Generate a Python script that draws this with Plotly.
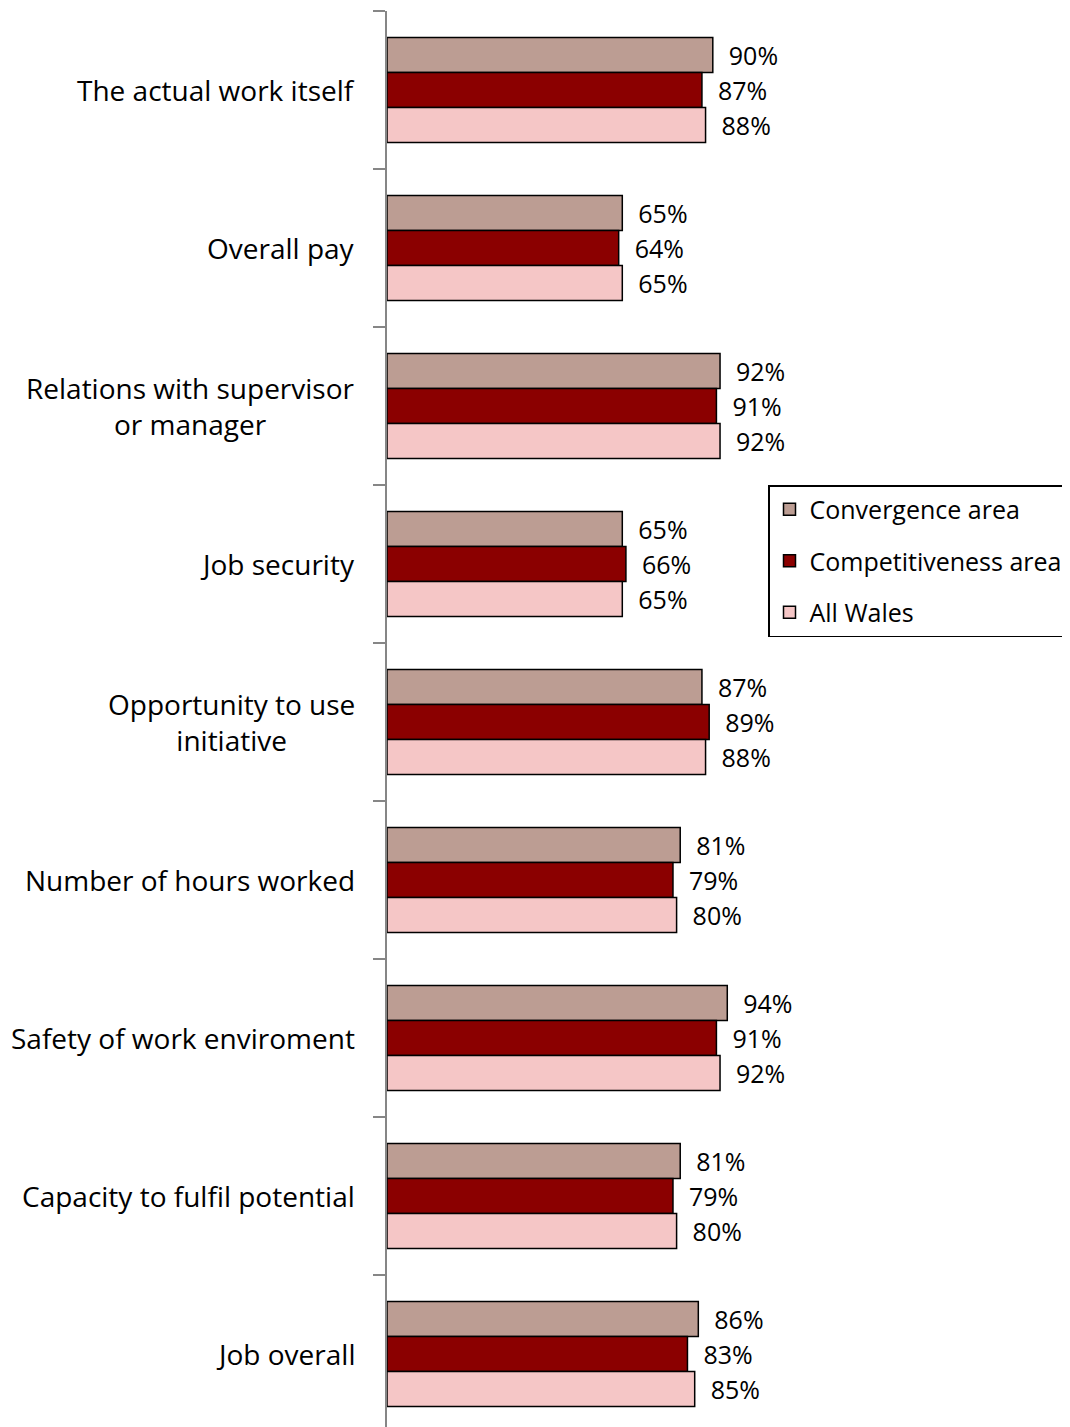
import plotly.graph_objects as go

categories = [
    "The actual work itself",
    "Overall pay",
    "Relations with supervisor<br>or manager",
    "Job security",
    "Opportunity to use<br>initiative",
    "Number of hours worked",
    "Safety of work enviroment",
    "Capacity to fulfil potential",
    "Job overall",
]
series_names = ["Convergence area", "Competitiveness area", "All Wales"]
convergence = [90, 65, 92, 65, 87, 81, 94, 81, 86]
competitiveness = [87, 64, 91, 66, 89, 79, 91, 79, 83]
all_wales = [88, 65, 92, 65, 88, 80, 92, 80, 85]
colors = ["#BC9D93", "#8B0000", "#F5C6C6"]

FONT = "Open Sans"
CAT_FS = 28
LBL_FS = 25
LEG_FS = 25

fig = go.Figure()
for i, (name, vals) in enumerate(zip(series_names, [convergence, competitiveness, all_wales])):
    fig.add_trace(go.Bar(
        y=categories, x=vals, orientation="h", name=name,
        marker=dict(color=colors[i], line=dict(color="black", width=1.5)),
        text=[f"\u00a0\u00a0{v}%" for v in vals],
        textposition="outside", cliponaxis=False,
        textfont=dict(family=FONT, size=LBL_FS, color="black"),
        legendgroup=name, hoverinfo="skip",
    ))

for c in categories:
    fig.add_annotation(
        x=0, xref="paper", y=c, yref="y", xanchor="right", yanchor="middle",
        xshift=-30, text=c, showarrow=False, align="center",
        font=dict(family=FONT, size=CAT_FS, color="black"),
    )

# page body has an 8px margin
OFF = 8
W, H = 1070 - OFF, 1427 - OFF
L, T = 387 - OFF, 11 - OFF
plot_w = W - L
px_per_pct = 3.62
plot_h = H - T
cat_px = 158

fig.update_layout(
    width=W, height=H,
    margin=dict(l=L, r=0, t=T, b=0),
    plot_bgcolor="white", paper_bgcolor="white",
    barmode="group", bargap=0.335, bargroupgap=0,
    font=dict(family=FONT, size=LEG_FS, color="black"),
    showlegend=True,
    legend=dict(
        x=(768 - 387) / plot_w, y=1 - (485 - 11) / plot_h,
        xanchor="left", yanchor="top",
        bordercolor="black", borderwidth=1.5, bgcolor="white",
        font=dict(family=FONT, size=LEG_FS, color="black"),
        traceorder="grouped", tracegroupgap=16,
        entrywidth=280, entrywidthmode="pixels",
    ),
    xaxis=dict(visible=False, range=[0, plot_w / px_per_pct]),
    yaxis=dict(
        type="category",
        range=[plot_h / cat_px - 0.5, -0.5],
        showticklabels=False,
        showline=True, linecolor="#868686", linewidth=1.5,
        ticks="outside", ticklen=12, tickcolor="#868686", tickwidth=1.5,
        tickson="boundaries", showgrid=False, zeroline=False,
    ),
)

fig.write_html("out.html")
